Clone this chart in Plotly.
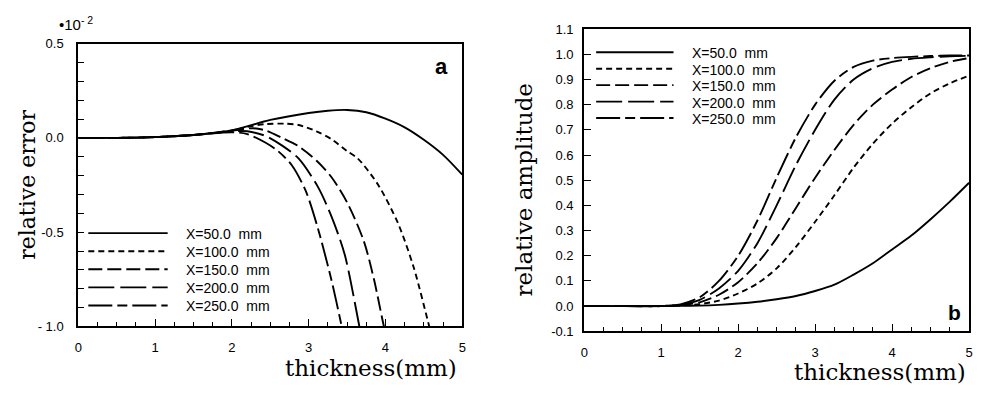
import plotly.graph_objects as go

W, H = 984, 397

# ---- series labels and line styles ----
series_names = ["X=50.0\u00a0 mm", "X=100.0\u00a0 mm", "X=150.0\u00a0 mm",
                "X=200.0\u00a0 mm", "X=250.0\u00a0 mm"]
series_dash = ["solid", "6px,4px", "14px,5px", "26px,6px", "24px,5px,10px,5px"]

# ---- panel a: relative error (x 10^-2) vs thickness (mm) ----
err_x_50 = [0, 0.5, 1.0, 1.5, 2.0, 2.5, 3.0, 3.25, 3.5, 3.75, 4.0, 4.25, 4.5, 4.75, 5.0]
err_y_50 = [0, 0.0, 0.004, 0.015, 0.04, 0.095, 0.132, 0.144, 0.148, 0.136, 0.102, 0.056, -0.01, -0.09, -0.195]

err_x_100 = [0, 0.5, 1.0, 1.5, 2.0, 2.2, 2.44, 2.7, 2.87, 3.1, 3.3, 3.5, 3.64, 3.9, 4.16, 4.37, 4.57, 4.62]
err_y_100 = [0, 0.0, 0.004, 0.015, 0.04, 0.058, 0.073, 0.075, 0.068, 0.035, -0.008, -0.07, -0.11, -0.246, -0.45, -0.69, -1.0, -1.08]

err_x_150 = [0, 0.5, 1.0, 1.5, 2.0, 2.27, 2.44, 2.65, 2.87, 3.1, 3.3, 3.51, 3.72, 3.85, 3.98, 4.02]
err_y_150 = [0, 0.0, 0.004, 0.015, 0.038, 0.051, 0.039, 0.0, -0.045, -0.12, -0.21, -0.35, -0.55, -0.75, -1.0, -1.06]

err_x_200 = [0, 0.5, 1.0, 1.5, 2.0, 2.2, 2.44, 2.65, 2.87, 3.12, 3.3, 3.47, 3.66, 3.7]
err_y_200 = [0, 0.0, 0.004, 0.015, 0.035, 0.035, 0.01, -0.04, -0.11, -0.26, -0.42, -0.62, -1.0, -1.08]

err_x_250 = [0, 0.5, 1.0, 1.5, 2.0, 2.2, 2.44, 2.6, 2.78, 2.96, 3.12, 3.3, 3.43, 3.46]
err_y_250 = [0, 0.0, 0.004, 0.015, 0.03, 0.02, -0.026, -0.07, -0.145, -0.28, -0.48, -0.76, -1.0, -1.06]

# ---- panel b: relative amplitude vs thickness (mm) ----
amp_x = [0, 0.5, 1.0, 1.25, 1.5, 1.75, 2.0, 2.25, 2.5, 2.75, 3.0, 3.25, 3.5, 3.75, 4.0, 4.25, 4.5, 4.75, 5.0]
amp_50 = [0, 0, 0, 0.001, 0.002, 0.005, 0.01, 0.017, 0.027, 0.04, 0.06, 0.085, 0.125, 0.17, 0.225, 0.28, 0.345, 0.415, 0.49]
amp_100 = [0, 0, 0, 0.002, 0.008, 0.022, 0.05, 0.09, 0.15, 0.235, 0.335, 0.44, 0.55, 0.645, 0.725, 0.79, 0.845, 0.885, 0.915]
amp_150 = [0, 0, 0, 0.004, 0.015, 0.045, 0.095, 0.17, 0.27, 0.39, 0.51, 0.62, 0.72, 0.80, 0.86, 0.91, 0.945, 0.97, 0.985]
amp_200 = [0, 0, 0, 0.005, 0.025, 0.07, 0.14, 0.25, 0.40, 0.56, 0.70, 0.82, 0.90, 0.945, 0.97, 0.982, 0.988, 0.992, 0.994]
amp_250 = [0, 0, 0, 0.007, 0.035, 0.10, 0.20, 0.34, 0.51, 0.67, 0.80, 0.895, 0.95, 0.975, 0.985, 0.99, 0.993, 0.995, 0.995]

# ---- tick labels (blank entries are unlabeled tick marks) ----
err_tickvals = [0.5, 0.4, 0.3, 0.2, 0.1, 0.0, -0.1, -0.2, -0.3, -0.4,
                -0.5, -0.6, -0.7, -0.8, -0.9, -1.0]
err_ticktext = ["0.5", " ", " ", " ", " ", "0.0", " ", " ", " ", " ",
                "-0.5", " ", " ", " ", " ", "- 1.0"]
amp_tickvals = [-0.1, 0.0, 0.1, 0.2, 0.3, 0.4, 0.5, 0.6, 0.7, 0.8, 0.9, 1.0, 1.1]
amp_ticktext = ["-0.1", "0.0", "0.1", "0.2", "0.3", "0.4", "0.5", "0.6", "0.7",
                "0.8", "0.9", "1.0", "1.1"]

err_series = [(err_x_50, err_y_50), (err_x_100, err_y_100), (err_x_150, err_y_150),
              (err_x_200, err_y_200), (err_x_250, err_y_250)]
amp_series = [amp_50, amp_100, amp_150, amp_200, amp_250]


def px(x):
    return x / W


def py(y):
    return 1 - y / H


fig = go.Figure()

for (xs, ys), name, dash in zip(err_series, series_names, series_dash):
    fig.add_trace(go.Scatter(x=xs, y=ys, mode="lines", name=name, showlegend=False,
                             line=dict(color="black", width=1.9, dash=dash, shape="spline",
                                       smoothing=0.8),
                             xaxis="x", yaxis="y"))

for ys, name, dash in zip(amp_series, series_names, series_dash):
    fig.add_trace(go.Scatter(x=amp_x, y=ys, mode="lines", name=name, showlegend=False,
                             line=dict(color="black", width=1.9, dash=dash, shape="spline",
                                       smoothing=0.8),
                             xaxis="x2", yaxis="y2"))

tick_font = dict(family="Liberation Sans, Arial, sans-serif", size=13, color="black")
common_x = dict(range=[0, 5], tickmode="linear", tick0=0, dtick=1,
                ticks="inside", ticklen=7, tickwidth=1.3, tickcolor="black",
                minor=dict(dtick=0.25, tick0=0, ticks="inside", ticklen=4,
                           tickwidth=1.2, tickcolor="black"),
                showline=True, linewidth=2.2, linecolor="black", mirror=True,
                showgrid=False, zeroline=False, tickfont=tick_font,
                ticklabelstandoff=8)

fig.update_layout(
    width=W, height=H,
    margin=dict(l=0, r=0, t=0, b=0),
    paper_bgcolor="white", plot_bgcolor="white",
    xaxis=dict(domain=[px(75), px(462)], anchor="y", **common_x),
    yaxis=dict(domain=[py(332), py(38)], anchor="x", range=[-1.0, 0.5],
               tickmode="array", tickvals=err_tickvals, ticktext=err_ticktext,
               ticks="inside", ticklen=6, tickwidth=1.3, tickcolor="black",
               showline=True, linewidth=2.2, linecolor="black", mirror=True,
               showgrid=False, zeroline=False, tickfont=tick_font,
               ticklabelstandoff=10),
    xaxis2=dict(domain=[px(585), px(973)], anchor="y2", **common_x),
    yaxis2=dict(domain=[py(337), py(23)], anchor="x2", range=[-0.1, 1.1],
                tickmode="array", tickvals=amp_tickvals, ticktext=amp_ticktext,
                ticks="inside", ticklen=7, tickwidth=1.3, tickcolor="black",
                showline=True, linewidth=2.2, linecolor="black", mirror=True,
                showgrid=False, zeroline=False, tickfont=tick_font,
                ticklabelstandoff=6),
)

serif = "DejaVu Serif, Liberation Serif, serif"
sans = "Liberation Sans, Arial, sans-serif"
annotations = [
    dict(text="relative error", x=px(23), y=py(185), textangle=-90,
         font=dict(family=serif, size=22, color="black")),
    dict(text="relative amplitude", x=px(524), y=py(190), textangle=-90,
         font=dict(family=serif, size=23, color="black")),
    dict(text="thickness(mm)", x=px(370), y=py(375),
         font=dict(family=serif, size=23, color="black")),
    dict(text="thickness(mm)", x=px(883), y=py(379),
         font=dict(family=serif, size=23, color="black")),
    dict(text="\u202210<sup>- 2</sup>", x=px(73), y=py(17),
         font=dict(family=sans, size=15, color="black")),
    dict(text="<b>a</b>", x=px(441), y=py(62),
         font=dict(family=sans, size=22, color="black")),
    dict(text="<b>b</b>", x=px(958), y=py(318),
         font=dict(family=sans, size=21, color="black")),
]

shapes = []
# legend keys for both panels
legend_layout = [
    dict(x0=85, x1=165, xt=181, y0=235, dy=18.8),
    dict(x0=597, x1=675, xt=692, y0=47, dy=17.1),
]
for lg in legend_layout:
    for i, (name, dash) in enumerate(zip(series_names, series_dash)):
        yy = lg["y0"] + i * lg["dy"]
        shapes.append(dict(type="line", xref="paper", yref="paper",
                           x0=px(lg["x0"]), x1=px(lg["x1"]), y0=py(yy), y1=py(yy),
                           line=dict(color="black", width=1.9, dash=dash)))
        annotations.append(dict(text=name, x=px(lg["xt"]), y=py(yy + 1), xanchor="left",
                                font=dict(family=sans, size=14, color="black")))

for a in annotations:
    a.setdefault("xref", "paper")
    a.setdefault("yref", "paper")
    a.setdefault("showarrow", False)
    a.setdefault("xanchor", "center")
    a.setdefault("yanchor", "middle")

fig.update_layout(annotations=annotations, shapes=shapes)

fig.write_html("out.html")
